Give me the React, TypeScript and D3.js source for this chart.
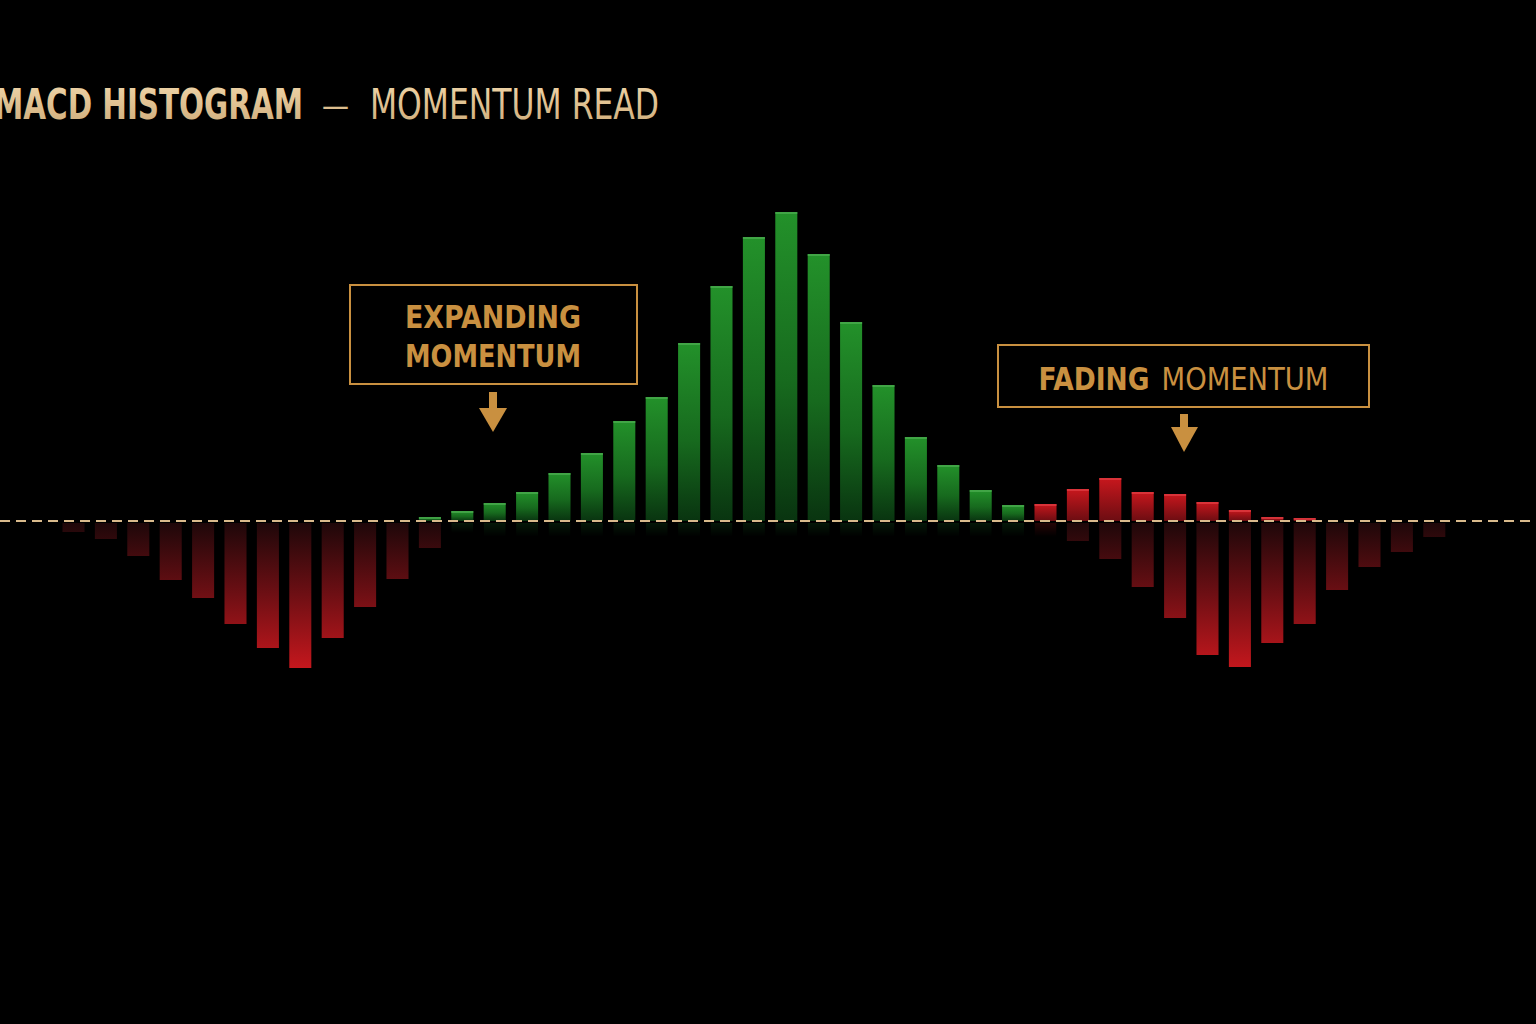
import React, { useEffect, useLayoutEffect, useRef } from 'react';
import * as d3 from 'd3';

const W = 1536;
const H = 1024;

// MACD histogram, one value per session (upper = above signal, lower = below)
const upper = [
  0, 0, 0, 0, 0, 0, 0, 0, 0, 0, 0, 0.04, 0.1, 0.18, 0.29, 0.48, 0.68, 1.0, 1.24, 1.78, 2.35, 2.84,
  3.09, 2.67, 1.99, 1.36, 0.84, 0.56, 0.31, 0.16, 0.17, 0.32, 0.43, 0.29, 0.27, 0.19, 0.11, 0.04, 0.03,
  0, 0, 0, 0,
];
const lower = [
  -0.11, -0.18, -0.35, -0.59, -0.77, -1.03, -1.27, -1.47, -1.17, -0.86, -0.58, -0.27, 0, 0, 0, 0, 0, 0,
  0, 0, 0, 0, 0, 0, 0, 0, 0, 0, 0, 0, 0, -0.2, -0.38, -0.66, -0.97, -1.34, -1.46, -1.22, -1.03, -0.69,
  -0.46, -0.31, -0.16,
];
// from this session on the upper bars turn red (fading)
const fadeFrom = 30;

const titleBold = 'MACD HISTOGRAM';
const titleDash = '—';
const titleRest = 'MOMENTUM READ';
const noteLeft = ['EXPANDING', 'MOMENTUM'];
const noteRight = ['FADING', 'MOMENTUM'];

const GOLD = '#c99040';
const FONT = "'Liberation Sans Narrow', 'DejaVu Sans Condensed', 'Roboto', sans-serif";

const App: React.FC = () => {
  const boldRef = useRef<SVGTextElement>(null);
  const restRef = useRef<SVGTextElement>(null);

  useEffect(() => {
    document.body.style.margin = '0';
    document.body.style.background = '#000';
  }, []);

  // squeeze the title pieces horizontally to the widths seen in the picture
  useLayoutEffect(() => {
    const fit = (el: SVGTextElement | null, x0: number, width: number) => {
      if (!el) return;
      const w = el.getComputedTextLength();
      el.setAttribute('transform', `translate(${x0},119) scale(${width / w},1)`);
    };
    fit(boldRef.current, -6, 309);
    fit(restRef.current, 370, 289);
  }, []);

  const sessions = upper.map((_, i) => i);
  const x = d3.scaleBand<number>().domain(sessions).range([57.3, 1450.5]).paddingInner(0.32).paddingOuter(0.16);
  const y = d3.scaleLinear().domain([-3, 3.5]).range([821, 171]);
  const y0 = y(0);
  const bw = x.bandwidth();
  const minLow = d3.min(lower) as number;

  return (
    <svg width={W} height={H} style={{ display: 'block', background: '#000' }}>
      <defs>
        <linearGradient id="gUp" x1="0" y1="0" x2="0" y2="1">
          <stop offset="0" stopColor="#23912a" />
          <stop offset="0.55" stopColor="#176a1e" />
          <stop offset="1" stopColor="#093410" />
        </linearGradient>
        <linearGradient id="rUp" x1="0" y1="0" x2="0" y2="1">
          <stop offset="0" stopColor="#c8171d" />
          <stop offset="1" stopColor="#6c0d12" />
        </linearGradient>
        <linearGradient id="rDown" gradientUnits="userSpaceOnUse" x1="0" y1={y0} x2="0" y2={y(minLow)}>
          <stop offset="0" stopColor="#1c0709" />
          <stop offset="0.5" stopColor="#6e0f14" />
          <stop offset="1" stopColor="#c4171d" />
        </linearGradient>
        <linearGradient id="refl" x1="0" y1="0" x2="0" y2="1">
          <stop offset="0" stopColor="#fff" stopOpacity={1} />
          <stop offset="1" stopColor="#fff" stopOpacity={0} />
        </linearGradient>
        <mask id="reflMask" maskContentUnits="objectBoundingBox">
          <rect width={1} height={1} fill="url(#refl)" />
        </mask>
        <linearGradient id="title" x1="0" y1="0" x2="0" y2="1">
          <stop offset="0" stopColor="#f1d7ab" />
          <stop offset="1" stopColor="#cdaa78" />
        </linearGradient>
      </defs>
      <rect width={W} height={H} fill="#000" />

      {/* title */}
      <g fontFamily={FONT} fill="url(#title)" fontSize={42}>
        <text ref={boldRef} x={0} y={0} fontWeight="bold" transform="translate(-6,119) scale(0.86,1)">{titleBold}</text>
        <text x={322} y={116} fontSize={30}>{titleDash}</text>
        <text ref={restRef} x={0} y={0} transform="translate(370,119) scale(0.86,1)">{titleRest}</text>
      </g>

      {/* reflections of the upper bars */}
      <g>
        {sessions.filter((i) => upper[i] > 0).map((i) => {
          const h = Math.min(y0 - y(upper[i]), 14);
          return (
            <rect key={`rf${i}`} x={x(i)} y={y0 + 2} width={bw} height={h}
              fill={i >= fadeFrom ? '#6a0e12' : '#0e4418'} opacity={0.35} mask="url(#reflMask)" />
          );
        })}
      </g>

      {/* lower bars */}
      <g>
        {sessions.filter((i) => lower[i] < 0).map((i) => (
          <rect key={`lo${i}`} x={x(i)} y={y0 + 2} width={bw} height={y(lower[i]) - y0 - 2} fill="url(#rDown)" />
        ))}
      </g>

      {/* upper bars */}
      <g>
        {sessions.filter((i) => upper[i] > 0).map((i) => {
          const top = y(upper[i]);
          const red = i >= fadeFrom;
          return (
            <g key={`up${i}`}>
              <rect x={x(i)} y={top} width={bw} height={y0 - top} fill={red ? 'url(#rUp)' : 'url(#gUp)'} />
              <rect x={x(i)} y={top} width={bw} height={Math.min(2, y0 - top)}
                fill={red ? '#e24046' : '#4fae52'} opacity={0.7} />
            </g>
          );
        })}
      </g>

      {/* zero line */}
      <line x1={0} x2={W} y1={y0} y2={y0} stroke="#d9ba8c" strokeWidth={2} strokeDasharray="10 6" />

      {/* annotations */}
      <g fontFamily={FONT} fill={GOLD} fontSize={32} textAnchor="middle">
        <rect x={350} y={285} width={287} height={99} fill="none" stroke={GOLD} strokeWidth={2} />
        <text x={493} y={328} fontWeight="bold" textLength={176} lengthAdjust="spacingAndGlyphs">{noteLeft[0]}</text>
        <text x={493} y={367} fontWeight="bold" textLength={176} lengthAdjust="spacingAndGlyphs">{noteLeft[1]}</text>
        <rect x={489} y={392} width={8} height={17} />
        <path d="M479,408 L507,408 L493,432 Z" />

        <rect x={998} y={345} width={371} height={62} fill="none" stroke={GOLD} strokeWidth={2} />
        <text x={1094} y={390} fontWeight="bold" textLength={111} lengthAdjust="spacingAndGlyphs">{noteRight[0]}</text>
        <text x={1245} y={390} textLength={167} lengthAdjust="spacingAndGlyphs">{noteRight[1]}</text>
        <rect x={1180} y={414} width={8} height={15} />
        <path d="M1171,427 L1198,427 L1184,452 Z" />
      </g>
    </svg>
  );
};

export default App;
